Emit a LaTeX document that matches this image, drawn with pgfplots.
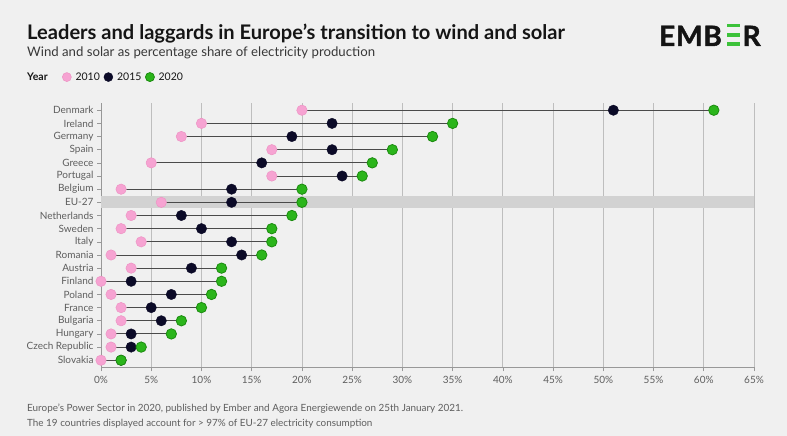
\documentclass[border=0pt]{standalone}
\usepackage{pgfplots}
\pgfplotsset{compat=1.18}
\usepackage{pgfplotstable}
\usepackage{fontspec}
\setmainfont{Lato}
\definecolor{bg}{HTML}{F0F0F0}
\definecolor{pinkc}{HTML}{F6A3D2}
\definecolor{pinkedge}{HTML}{EE93C4}
\definecolor{navyc}{HTML}{0B0A27}
\definecolor{greenc}{HTML}{2BB51B}
\definecolor{greenedge}{HTML}{1C8C10}
\definecolor{bandc}{HTML}{D2D2D2}
\definecolor{gridc}{HTML}{BEBEBE}
\definecolor{labelc}{HTML}{5E5E5E}
\definecolor{linec}{HTML}{4A4A4A}
\definecolor{titlec}{HTML}{151515}
\definecolor{logogreen}{HTML}{3CC23A}

\pgfplotstableread{
idx y2010 y2015 y2020
19 20 51 61
18 10 23 35
17 8 19 33
16 17 23 29
15 5 16 27
14 17 24 26
13 2 13 20
12 6 13 20
11 3 8 19
10 2 10 17
9 4 13 17
8 1 14 16
7 3 9 12
6 0 3 12
5 1 7 11
4 2 5 10
3 2 6 8
2 1 3 7
1 1 3 4
0 0 2 2
}\data

\begin{document}
\begin{tikzpicture}[x=1bp,y=1bp]
\fill[bg] (0,0) rectangle (787,436);
\node[anchor=base west, inner sep=0, text=titlec, font=\fontsize{20.1bp}{22bp}\selectfont\bfseries] at (27,396) {Leaders and laggards in Europe's transition to wind and solar};
\node[anchor=base west, inner sep=0, text=titlec!85, font=\fontsize{13.2bp}{15bp}\selectfont] at (27,379) {Wind and solar as percentage share of electricity production};
\node[anchor=base west, inner sep=0, text=titlec, font=\fontsize{10.5bp}{12bp}\selectfont\bfseries] at (27,355) {Year};
% logo
\node[anchor=base west, inner sep=0, text=black!92, font=\fontsize{28bp}{30bp}\selectfont\bfseries\addfontfeature{FakeBold=1.5, LetterSpace=3}] at (659,390) {EMB};
\fill[logogreen] (727,408.5) rectangle (740,412);
\fill[logogreen] (727,399.2) rectangle (740,402.7);
\fill[logogreen] (727,390) rectangle (740,393.5);
\node[anchor=base west, inner sep=0, text=black!92, font=\fontsize{28bp}{30bp}\selectfont\bfseries\addfontfeature{FakeBold=1.5}] at (742.5,390) {R};
% footnote
\node[anchor=base west, inner sep=0, text=labelc, font=\fontsize{9.9bp}{11bp}\selectfont] at (27,24) {Europe's Power Sector in 2020, published by Ember and Agora Energiewende on 25th January 2021.};
\node[anchor=base west, inner sep=0, text=labelc, font=\fontsize{9.9bp}{11bp}\selectfont] at (27,9.5) {The 19 countries displayed account for > 97\% of EU-27 electricity consumption};

\begin{axis}[
  at={(101bp,68.5bp)}, anchor=south west,
  scale only axis, width=653bp, height=264.5bp,
  xmin=0, xmax=65, ymin=-0.55, ymax=19.55,
  xtick={0,5,...,65},
  xticklabel={\pgfmathprintnumber{\tick}\%},
  /pgf/number format/assume math mode=true,
  ytick={0,...,19},
  yticklabels={Slovakia,{Czech Republic},Hungary,Bulgaria,France,Poland,Finland,Austria,Romania,Italy,Sweden,Netherlands,EU-27,Belgium,Portugal,Greece,Spain,Germany,Ireland,Denmark},
  axis x line*=bottom, axis y line*=left,
  axis line style={gridc!80!black, line width=0.6bp, -},
  xmajorgrids, grid style={gridc, line width=0.8bp},
  tick align=outside, major tick length=4bp,
  tick style={gridc!80!black, line width=0.6bp},
  ticklabel style={text=labelc, font=\fontsize{10bp}{12bp}\selectfont},
  xticklabel style={yshift=-1bp},
  clip=false,
  legend columns=3,
  legend style={at={(-0.0595,1.098)}, anchor=west, draw=none, fill=none,
    inner sep=0pt, font=\fontsize{10.5bp}{12bp}\selectfont, text=titlec,
    /tikz/every even column/.append style={column sep=2bp}},
  legend image code/.code={\draw[#1, mark size=4.5bp] plot coordinates {(3bp,0bp)}; \path (9.5bp,0bp);},
]
\addplot[fill=bandc, draw=none, forget plot] coordinates {(0,11.55) (65,11.55) (65,12.45) (0,12.45)} -- cycle;
\addplot[linec, line width=0.9bp, forget plot, quiver={u=\thisrow{y2020}-\thisrow{y2010}, v=0}] table[x=y2010, y=idx] {\data};
\addplot[only marks, mark=*, mark size=5.2bp, mark options={fill=pinkc, draw=pinkedge, line width=0.5bp}] table[x=y2010, y=idx] {\data};
\addlegendentry{2010}
\addplot[only marks, mark=*, mark size=5.2bp, mark options={fill=navyc, draw=navyc}] table[x=y2015, y=idx] {\data};
\addlegendentry{2015}
\addplot[only marks, mark=*, mark size=5.2bp, mark options={fill=greenc, draw=greenedge, line width=0.8bp}] table[x=y2020, y=idx] {\data};
\addlegendentry{2020}
\end{axis}
\end{tikzpicture}
\end{document}
